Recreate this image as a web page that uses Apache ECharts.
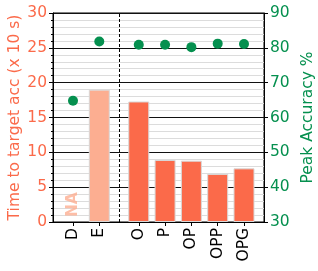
<!DOCTYPE html>
<html><head><meta charset="utf-8">
<script src="https://cdn.jsdelivr.net/npm/echarts@6/dist/echarts.min.js"></script>
<style>html,body{margin:0;padding:0;background:#fff}#c{width:318px;height:271px}</style>
</head><body><div id="c"></div>
<script>
const categories = ['D','E','O','P','OP','OPP','OPG'];
const positions = [0, 1, 2.5, 3.5, 4.5, 5.5, 6.5];
const timeValues = [null, 19.0, 17.3, 8.9, 8.8, 6.9, 7.7];
const accValues = [64.8, 81.8, 80.9, 80.9, 80.2, 81.2, 81.1];
const naLabels = ['NA', null, null, null, null, null, null];
const leftTicks = [0,5,10,15,20,25,30];
const rightTicks = [30,40,50,60,70,80,90];
const separatorAt = 1.75;

const RED = '#fb6a4a', LIGHT = '#fcae91', GREEN = '#05904f';
const font = 'DejaVu Sans';

const barData = [];
categories.forEach((c,i)=>{
  if (timeValues[i] !== null) barData.push({value:[positions[i], timeValues[i]], itemStyle:{color: i===1 ? LIGHT : RED}});
});
const naData = [];
categories.forEach((c,i)=>{ if (naLabels[i]) naData.push({value:[positions[i], 0.7], name:naLabels[i]}); });

const chart = echarts.init(document.getElementById('c'), null, {renderer:'canvas'});
chart.setOption({
  animation:false,
  grid:{left:53, right:54, top:13, bottom:49, containLabel:false, outerBoundsMode:'none',
    show:true, borderColor:'#000', borderWidth:1, backgroundColor:'transparent'},
  xAxis:{type:'value', min:-0.76, max:7.26,
    axisLine:{show:true, onZero:false, lineStyle:{color:'#000'}},
    splitLine:{show:false},
    axisTick:{show:true, customValues:positions, length:4, lineStyle:{color:'#000'}},
    axisLabel:{customValues:positions, rotate:90, color:'#000', fontFamily:font, fontSize:15.5, margin:6,
      formatter:v=>{const i=positions.indexOf(v); return i>=0?categories[i]:'';}}
  },
  yAxis:[
    {type:'value', min:0, max:30, interval:5, position:'left',
      name:'Time to target acc (x 10 s)', nameLocation:'middle', nameGap:30, nameMoveOverlap:false,
      nameTextStyle:{color:RED, fontFamily:font, fontSize:15.5},
      axisLine:{show:true, onZero:false, lineStyle:{color:'#000'}},
      axisTick:{show:true, length:4, lineStyle:{color:'#000'}},
      minorTick:{show:true, splitNumber:5, length:2, lineStyle:{color:'#000'}},
      axisLabel:{color:RED, fontFamily:font, fontSize:15.5, margin:6},
      splitLine:{show:true, lineStyle:{color:'#111', width:1.2}},
      minorSplitLine:{show:true, lineStyle:{color:'#dcdcdc', width:1}}
    },
    {type:'value', min:30, max:90, interval:10, position:'right',
      name:'Peak Accuracy %', nameLocation:'middle', nameGap:36, nameRotate:90, nameMoveOverlap:false,
      nameTextStyle:{color:GREEN, fontFamily:font, fontSize:15.5},
      axisLine:{show:true, onZero:false, lineStyle:{color:'#000'}},
      axisTick:{show:true, length:4, lineStyle:{color:'#000'}},
      axisLabel:{color:GREEN, fontFamily:font, fontSize:15.5, margin:6},
      splitLine:{show:false}
    }
  ],
  series:[
    {type:'bar', yAxisIndex:0, barWidth:21, data:barData,
      itemStyle:{borderColor:'#d9d9d9', borderWidth:1},
      markLine:{silent:true, symbol:'none', label:{show:false},
        lineStyle:{color:'#000', type:[3,2], width:1},
        data:[{xAxis:separatorAt}]}
    },
    {type:'scatter', yAxisIndex:0, symbolSize:0, data:naData,
      label:{show:true, position:'inside', rotate:90, align:'left', verticalAlign:'middle',
        formatter:p=>p.name, color:LIGHT, fontFamily:font, fontSize:15.5, fontWeight:'bold'}
    },
    {type:'scatter', yAxisIndex:1, symbolSize:10, z:5,
      data:accValues.map((v,i)=>[positions[i], v]),
      itemStyle:{color:GREEN, opacity:1}
    }
  ]
});
</script></body></html>
